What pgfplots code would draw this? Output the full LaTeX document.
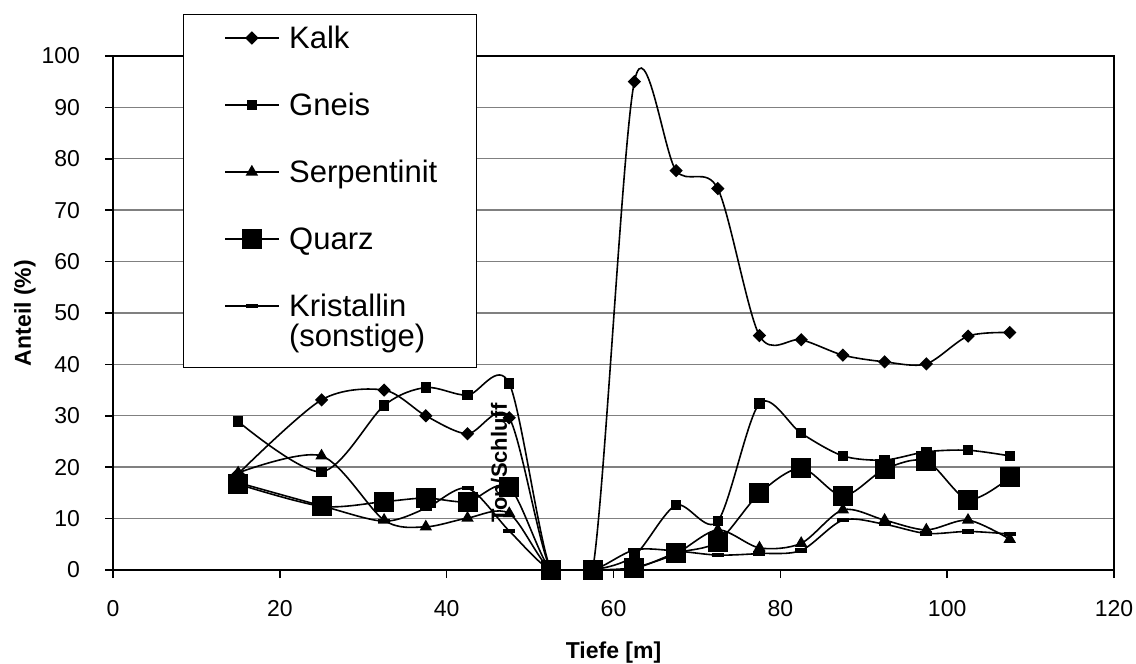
\documentclass[border=0pt]{standalone}
\usepackage{fontspec}
\setmainfont{Liberation Sans}
\usepackage{pgfplots}
\pgfplotsset{compat=1.18}
\definecolor{gridgray}{RGB}{128,128,128}
\begin{document}
\begin{tikzpicture}
\useasboundingbox (-56.5pt,-47pt) rectangle (511.5pt,285pt);
\begin{axis}[
  at={(0pt,0pt)}, anchor=south west,
  scale only axis, width=500.5pt, height=257pt,
  xmin=0, xmax=120, ymin=0, ymax=100,
  xtick={0,20,...,120}, ytick={0,10,...,100},
  tick pos=left, tick align=outside, major tick length=4pt,
  tick style={black, line width=0.8pt},
  ymajorgrids, grid style={draw=gridgray, line width=0.7pt},
  axis line style={black, line width=0.8pt},
  clip=true, clip marker paths=false,
  /pgf/number format/assume math mode=true,
  ticklabel style={font=\fontsize{11.5}{13}\selectfont},
  xticklabel shift=7.5pt, yticklabel shift=9pt,
  xlabel={Tiefe [m]}, ylabel={Anteil (\%)},
  label style={font=\bfseries\fontsize{11.5}{13}\selectfont},
  xlabel style={at={(axis description cs:0.5,-0.1615)}, anchor=center},
  ylabel style={at={(axis description cs:-0.0879,0.5)}, anchor=center},
  legend style={at={(axis description cs:0.0699,1.0817)}, anchor=north west,
    draw=black, line width=0.6pt, fill=white,
    inner xsep=20.5pt, inner ysep=4pt,
    row sep=16.5pt, column sep=5pt,
    font=\fontsize{15.5}{15}\selectfont,
    nodes={inner sep=0pt, anchor=base west, text width=73pt, align=left, text height=13pt, text depth=4pt},
  },
  legend image code/.code={\draw[mark repeat=2,mark phase=2,#1] plot coordinates {(0pt,5.3pt) (13.25pt,5.3pt) (26.5pt,5.3pt)};},
]
% Kalk
\addplot[black, line width=0.8pt, smooth, mark=square*, mark size=1.95pt, mark options={rotate=45, solid, fill=black}] coordinates {
(15,18.7) (25,33.1) (32.5,35.0) (37.5,30.0) (42.5,26.5) (47.5,29.6) (52.5,0) (57.5,0) (62.5,95.0) (67.5,77.7) (72.5,74.2) (77.5,45.6) (82.5,44.8) (87.5,41.8) (92.5,40.5) (97.5,40.1) (102.5,45.5) (107.5,46.2)};
\addlegendentry{Kalk}
% Gneis
\addplot[black, line width=0.8pt, smooth, mark=square*, mark size=2.2pt, mark options={solid, fill=black}] coordinates {
(15,28.9) (25,19.1) (32.5,32.0) (37.5,35.5) (42.5,34.0) (47.5,36.3) (52.5,0) (57.5,0) (62.5,2.8) (67.5,12.6) (72.5,9.5) (77.5,32.4) (82.5,26.6) (87.5,22.2) (92.5,21.4) (97.5,23.0) (102.5,23.3) (107.5,22.2)};
\addlegendentry{Gneis}
% Serpentinit
\addplot[black, line width=0.8pt, smooth, mark=triangle*, mark size=2.8pt, mark options={solid, fill=black}] coordinates {
(15,18.9) (25,22.2) (32.5,9.7) (37.5,8.4) (42.5,10.1) (47.5,11.0) (52.5,0) (57.5,0) (62.5,0.5) (67.5,3.2) (72.5,7.8) (77.5,4.3) (82.5,5.2) (87.5,11.7) (92.5,9.7) (97.5,7.8) (102.5,9.7) (107.5,6.0)};
\addlegendentry{Serpentinit}
% Quarz
\addplot[black, line width=0.8pt, smooth, mark=square*, mark size=4.6pt, mark options={solid, fill=black}] coordinates {
(15,16.7) (25,12.4) (32.5,13.3) (37.5,14.0) (42.5,13.3) (47.5,16.1) (52.5,0) (57.5,0) (62.5,0.3) (67.5,3.3) (72.5,5.5) (77.5,14.9) (82.5,19.8) (87.5,14.4) (92.5,19.6) (97.5,21.2) (102.5,13.7) (107.5,18.0)};
\addlegendentry{Quarz}
% Kristallin (sonstige)
\addplot[black, line width=0.8pt, smooth, mark=square*, mark size=2.6pt, mark options={solid, fill=black, yscale=0.27}] coordinates {
(15,17.0) (25,12.5) (32.5,9.5) (37.5,12.0) (42.5,15.9) (47.5,7.6) (52.5,0) (57.5,0) (62.5,3.9) (67.5,3.7) (72.5,2.9) (77.5,3.2) (82.5,3.8) (87.5,9.7) (92.5,8.9) (97.5,7.1) (102.5,7.5) (107.5,7.0)};
\addlegendentry[text depth=21.5pt]{Kristallin\\(sonstige)}
\node[rotate=90, font=\bfseries\fontsize{11}{13}\selectfont, inner sep=0pt] at (axis cs:46.3,20.8) {Ton/Schluff};
\end{axis}
\end{tikzpicture}
\end{document}
